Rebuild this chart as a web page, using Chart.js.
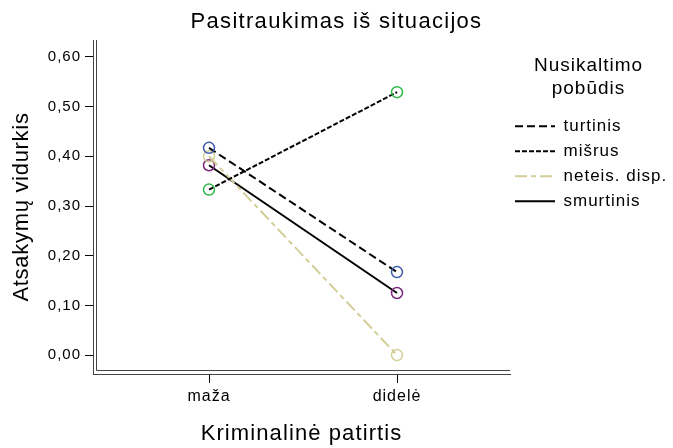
<!DOCTYPE html>
<html>
<head>
<meta charset="utf-8">
<title>Pasitraukimas iš situacijos</title>
<script src="https://cdn.jsdelivr.net/npm/chart.js@4.4.0/dist/chart.umd.min.js"></script>
<style>
  html, body { margin: 0; padding: 0; background: #fff; }
</style>
</head>
<body>
<canvas id="chart" width="673" height="448"></canvas>
<script>
// values
const categories = ['maža', 'didelė'];
const seriesNames = ['turtinis', 'mišrus', 'neteis. disp.', 'smurtinis'];
const turtinis = [0.417, 0.167];
const misrus = [0.333, 0.529];
const neteisDisp = [0.400, 0.000];
const smurtinis = [0.382, 0.125];
const yTicks = [0, 0.1, 0.2, 0.3, 0.4, 0.5, 0.6];

Chart.defaults.font.family = '"Liberation Sans", Arial, sans-serif';
Chart.defaults.color = '#000';

const markerColors = ['#3E58AC', '#2EB848', '#D3CE97', '#7C287D'];
const lineColors = ['#000', '#000', '#D3CE97', '#000'];
const dashes = [[8, 4], [5, 2], [12, 4, 5, 4], []];

function toPoints(values) {
    return values.map((v, i) => ({ x: i, y: v }));
}

const datasets = [turtinis, misrus, neteisDisp, smurtinis].map((vals, i) => ({
    label: seriesNames[i],
    data: toPoints(vals),
    borderColor: lineColors[i],
    backgroundColor: 'transparent',
    borderWidth: 2,
    borderDash: dashes[i],
    pointRadius: 5.5,
    pointBorderWidth: 1.5,
    pointBorderColor: markerColors[i],
    pointBackgroundColor: 'transparent',
    fill: false,
    tension: 0
}));

// second, inner line for the SPSS style double axis
const doubleAxis = {
    id: 'doubleAxis',
    beforeDatasetsDraw(chart) {
        const { ctx, chartArea: a } = chart;
        ctx.save();
        ctx.strokeStyle = '#444';
        ctx.lineWidth = 1;
        ctx.beginPath();
        ctx.moveTo(a.left + 3.5, a.top);
        ctx.lineTo(a.left + 3.5, a.bottom - 3.5);
        ctx.lineTo(a.right, a.bottom - 3.5);
        ctx.stroke();
        ctx.restore();
    }
};

// wrap a draw method so its text gets some letter spacing (and an x shift)
function spaced(target, method, spacing, dx) {
    const orig = target[method];
    target[method] = function (...args) {
        const c = this.ctx;
        const prev = c.letterSpacing;
        c.save();
        c.letterSpacing = spacing;
        if (dx) c.translate(dx, 0);
        const r = orig.apply(this, args);
        c.restore();
        c.letterSpacing = prev;
        return r;
    };
}

// SPSS-like text: fixed legend width, wider letter spacing
const textLook = {
    id: 'textLook',
    beforeInit(chart) {
        const fit = chart.legend.fit;
        chart.legend.fit = function () {
            fit.call(this);
            this.width = 163;
        };
    },
    beforeDraw(chart) {
        chart.ctx.letterSpacing = '1px';
        if (chart._spaced) return;
        chart._spaced = true;
        spaced(chart.titleBlock, 'draw', '1.3px');
        spaced(chart.legend, 'draw', '1px', -3);
        spaced(chart.legend, '_drawTitle', '2px', 4);
        spaced(chart.scales.x, 'drawTitle', '1.1px');
        spaced(chart.scales.y, 'drawTitle', '0.7px');
    }
};

const ctx = document.getElementById('chart').getContext('2d');
const chart = new Chart(ctx, {
    type: 'line',
    data: { datasets },
    plugins: [doubleAxis, textLook],
    options: {
        responsive: false,
        animation: false,
        devicePixelRatio: 1,
        layout: { padding: 0 },
        plugins: {
            title: {
                display: true,
                text: 'Pasitraukimas iš situacijos',
                font: { size: 22, weight: 'normal' },
                color: '#000',
                padding: { top: 8.8, bottom: 4.8 }
            },
            legend: {
                position: 'right',
                align: 'start',
                title: {
                    display: true,
                    text: ['Nusikaltimo', 'pobūdis'],
                    position: 'center',
                    font: { size: 19 },
                    color: '#000',
                    padding: { top: 56, bottom: 31 }
                },
                labels: {
                    usePointStyle: true,
                    pointStyle: 'line',
                    pointStyleWidth: 40,
                    padding: 8,
                    color: '#000',
                    font: { size: 17 },
                    generateLabels: c => c.data.datasets.map((ds, i) => ({
                        text: ds.label,
                        datasetIndex: i,
                        fillStyle: 'transparent',
                        strokeStyle: ds.borderColor,
                        lineDash: ds.borderDash,
                        lineWidth: ds.borderWidth,
                        pointStyle: 'line',
                        fontColor: '#000',
                        hidden: false
                    }))
                }
            },
            tooltip: { enabled: false }
        },
        scales: {
            x: {
                type: 'linear',
                min: -0.617,
                max: 1.601,
                afterBuildTicks: ax => { ax.ticks = categories.map((c, i) => ({ value: i })); },
                afterFit: ax => { ax.height = 74; },
                ticks: {
                    callback: v => categories[v],
                    autoSkip: false,
                    maxRotation: 0,
                    padding: 4,
                    font: { size: 16 },
                    color: '#000'
                },
                grid: { display: true, drawOnChartArea: false, tickLength: 9, color: '#000' },
                border: { display: true, color: '#444' },
                title: {
                    display: true,
                    text: 'Kriminalinė patirtis',
                    font: { size: 22, lineHeight: 1 },
                    color: '#000',
                    padding: { top: 0, bottom: 3 }
                }
            },
            y: {
                min: -0.038,
                max: 0.634,
                afterBuildTicks: ax => { ax.ticks = yTicks.map(v => ({ value: v })); },
                afterFit: ax => { ax.width = 93; },
                ticks: {
                    callback: v => v.toFixed(2).replace('.', ','),
                    padding: 4,
                    font: { size: 15 },
                    color: '#000'
                },
                grid: { display: true, drawOnChartArea: false, tickLength: 8, color: '#000' },
                border: { display: true, color: '#444' },
                title: {
                    display: true,
                    text: 'Atsakymų vidurkis',
                    font: { size: 22, lineHeight: 1 },
                    color: '#000',
                    padding: { top: 11, bottom: 0 }
                }
            }
        }
    }
});
</script>
</body>
</html>
